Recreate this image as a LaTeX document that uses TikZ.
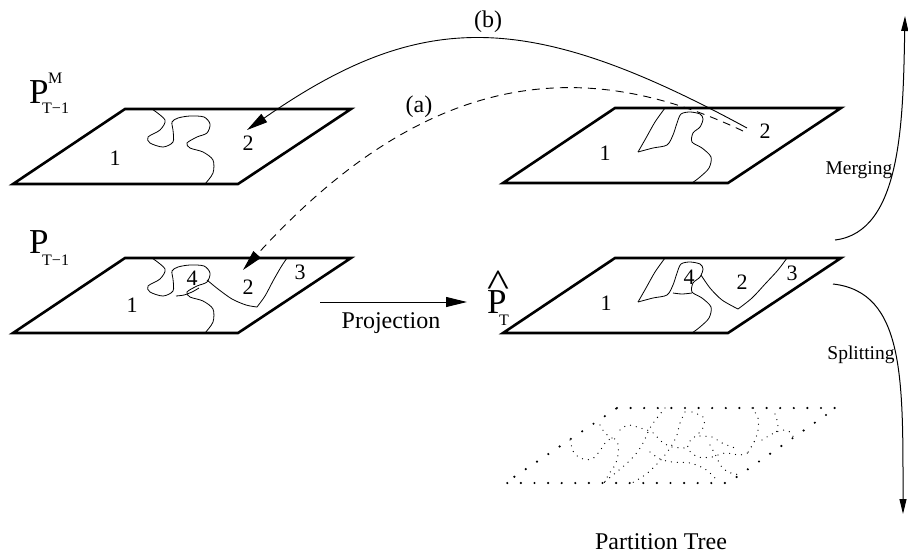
\documentclass[tikz,border=0pt]{standalone}
\usepackage{fontspec}
\setmainfont{Liberation Serif}
\usetikzlibrary{arrows.meta}

\begin{document}
\begin{tikzpicture}[
    x=1pt, y=-1pt,
    plane/.style={line width=2.6pt, line join=miter},
    cut/.style={line width=0.8pt},
    tree/.style={line width=2.4pt, line cap=round, dash pattern=on 0pt off 13.6pt},
    twig/.style={line width=1.3pt, line cap=round, dash pattern=on 0pt off 6pt},
    num/.style={inner sep=0pt, font=\fontsize{22}{22}\selectfont},
    txt/.style={inner sep=0pt, font=\fontsize{24}{24}\selectfont},
    side/.style={inner sep=0pt, font=\fontsize{19.5}{19.5}\selectfont},
    big/.style={inner sep=0pt, anchor=base west, font=\fontsize{35}{35}\selectfont},
    idx/.style={inner sep=0pt, anchor=base west, font=\fontsize{16}{16}\selectfont},
    arr/.style={-{Triangle[length=21pt, width=10pt]}, line width=0.9pt},
    vert/.style={-{Triangle[length=15pt, width=7pt]}, line width=1pt}
]
\useasboundingbox (0,0) rectangle (908,558);

% partitions at T-1 (left) and projected at T (right)
\draw[plane] (125,109) -- (351,109) -- (238,184) -- (13,184) -- cycle;
\draw[plane] (125,258) -- (351,258) -- (238,333) -- (13,333) -- cycle;
\draw[plane] (615,108) -- (841,108) -- (728,183) -- (503,183) -- cycle;
\draw[plane] (615,258) -- (841,258) -- (728,333) -- (503,333) -- cycle;

% region boundaries
\draw[cut] plot[smooth] coordinates {(152,109) (165,120) (160,130) (148,137) (150,143) (163,147) (173,142) (173,130) (172,122) (178,118) (190,116) (204,117) (210,124) (207,133) (197,137) (187,143) (190,148) (203,152) (213,160) (213,173) (205,184)};
\draw[cut] plot[smooth] coordinates {(152,258) (165,269) (160,279) (148,286) (150,292) (163,296) (173,291) (173,279) (172,271) (178,267) (190,265) (204,266) (210,273) (207,282) (197,286) (187,292) (190,297) (203,301) (213,309) (213,322) (205,333)};
\draw[cut] plot[smooth] coordinates {(176,296) (184,295) (192,292) (199,288)};
\draw[cut] plot[smooth] coordinates {(207,280) (218,289) (232,299) (246,305) (257,307)};
\draw[cut] plot[smooth] coordinates {(257,307) (265,296) (273,281) (281,267) (287,258)};

\draw[cut] plot[smooth] coordinates {(665,108) (655,122) (646,138) (638,152)};
\draw[cut] plot[smooth] coordinates {(638,152) (653,148) (667,145) (673,135) (677,123) (681,114) (690,112) (700,114) (703,119) (700,127) (693,133) (692,142) (702,148) (711,157) (709,168) (700,177) (692,183)};
\draw[cut] plot[smooth] coordinates {(665,258) (655,272) (646,288) (638,302)};
\draw[cut] plot[smooth] coordinates {(638,302) (653,298) (667,295) (673,285) (677,273) (681,264) (690,262) (700,264) (703,269) (700,277) (693,283) (692,292) (702,298) (711,307) (709,318) (700,327) (692,333)};
\draw[cut] plot[smooth] coordinates {(673,293) (682,294) (692,293)};
\draw[cut] plot[smooth] coordinates {(701,275) (710,288) (722,300) (738,309)};
\draw[cut] plot[smooth] coordinates {(738,309) (752,298) (766,283) (778,270) (787,258)};

% partition tree
\draw[tree] (617,408) -- (836,408) -- (728,483) -- (505,483) -- cycle;
\draw[twig] plot[smooth] coordinates {(570,440) (574,453) (583,459) (592,459) (599,452) (606,442) (613,438) (618,444) (618,455) (615,465) (609,474) (604,483)};
\draw[twig] plot[smooth] coordinates {(600,425) (605,433) (612,438)};
\draw[twig] plot[smooth] coordinates {(665,408) (657,418) (650,428) (643,443) (635,455) (625,465) (613,475) (603,483)};
\draw[twig] plot[smooth] coordinates {(685,412) (680,423) (677,435) (672,445) (665,455) (655,466) (645,475) (632,483)};
\draw[twig] plot[smooth] coordinates {(692,412) (703,417) (704,426) (698,434) (690,441) (688,449) (698,457) (712,457) (725,453) (740,455) (750,452)};
\draw[twig] plot[smooth] coordinates {(752,408) (758,418) (758,430) (755,440) (750,449) (745,457)};
\draw[twig] plot[smooth] coordinates {(762,440) (772,434) (783,430) (790,432) (795,440)};
\draw[twig] plot[smooth] coordinates {(710,445) (716,456) (721,466) (728,472) (740,475)};
\draw[twig] plot[smooth] coordinates {(620,430) (628,425) (640,428) (652,432) (662,442) (672,447) (686,448)};
\draw[twig] plot[smooth] coordinates {(650,452) (660,459) (672,462) (690,463) (705,469) (716,479)};
\draw[twig] plot[smooth] coordinates {(700,436) (712,437) (722,443) (735,448)};
\draw[twig] plot[smooth] coordinates {(775,414) (778,425) (775,436)};

% region numbers
\node[num] (tl1) at (115,158) {1};
\node[num] (tl2) at (248,143) {2};
\node[num] (tr1) at (605,153) {1};
\node[num] (tr2) at (765,131) {2};
\node[num] (bl1) at (132,305) {1};
\node[num] (bl4) at (192,278) {4};
\node[num] (bl2) at (248,287) {2};
\node[num] (bl3) at (300,272) {3};
\node[num] (br1) at (606,303) {1};
\node[num] (br4) at (689,277) {4};
\node[num] (br2) at (742,282) {2};
\node[num] (br3) at (792,273) {3};

% partition names
\node[big] (pm) at (29,103) {P};
\node[idx] (pm-sup) at (48,83) {M};
\node[idx] (pm-sub) at (42,113) {T−1};
\node[big] (p) at (29,253) {P};
\node[idx] (p-sub) at (42,265) {T−1};
\node[big] (ph) at (487,313) {P};
\node[idx, font=\fontsize{26}{26}\selectfont] (ph-hat) at (487,296) {\scalebox{1.8}[1.5]{\textasciicircum}};
\node[idx] (ph-sub) at (499,325) {T};

% arrows
\coordinate (b-from) at (747,128);
\coordinate (b-to) at (247,130);
\coordinate (a-from) at (743,131);
\coordinate (a-to) at (243,270);
\coordinate (proj-from) at (320,302);
\coordinate (proj-to) at (467,302);
\coordinate (merge-from) at (835,240);
\coordinate (merge-to) at (905,16);
\coordinate (split-from) at (833,284);
\coordinate (split-to) at (903,514);

\draw[arr] (b-from) .. controls (528,9) and (421,9) .. (b-to);
\draw[arr, dash pattern=on 8pt off 6pt] (a-from) .. controls (593,60) and (434,60) .. (a-to);
\draw[arr] (proj-from) -- (proj-to);
\draw[vert] (merge-from) .. controls (902,232) and (903,120) .. (merge-to);
\draw[vert] (split-from) .. controls (905,292) and (903,380) .. (split-to);

\node[txt] (lb) at (488,22) {(b)};
\node[txt] (la) at (419,107) {(a)};
\node[txt] (proj) at (391,323) {Projection};
\node[side] (merge) at (859,170) {Merging};
\node[side] (split) at (861,355) {Splitting};
\node[txt] (ptree) at (661,542) {Partition Tree};
\end{tikzpicture}
\end{document}
